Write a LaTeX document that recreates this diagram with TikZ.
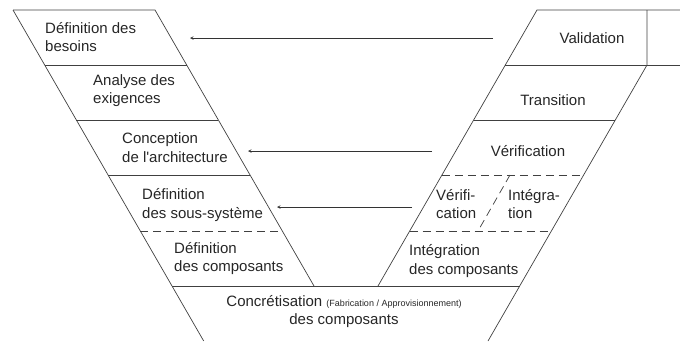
\documentclass[tikz,border=0pt]{standalone}
\usepackage{fontspec}
\setmainfont{Liberation Sans}[Ligatures=TeXOff]
\usetikzlibrary{arrows}
\tikzset{
    band/.style={draw=black!75,line width=0.7pt},
    split/.style={draw=black!75,line width=0.7pt,dash pattern=on 8pt off 5pt},
    phase/.style={inner sep=0pt,align=left,anchor=west,text=black!85,font=\fontsize{15}{18.5}\selectfont},
    phasec/.style={phase,align=center,anchor=center},
    back/.style={->,line width=0.6pt,>=stealth,draw=black!80}
}

\begin{document}
\begin{tikzpicture}[x=1pt,y=-1pt]

                \useasboundingbox (0,0) rectangle (680,341);

                % left branch
                \draw[band] (13,10) -- (155,10) -- (314,286);
                \draw[band] (13,10) -- (203.7,341);
                \draw[band] (44.7,65) -- (186.7,65);
                \draw[band] (76.4,120) -- (218.4,120);
                \draw[band] (108.1,175) -- (250.1,175);
                \draw[split] (140.3,231) -- (282.3,231);
                \draw[band] (172,286) -- (519.7,286);

                % right branch
                \draw[band] (378,286) -- (537,10) -- (680,10);
                \draw[band] (647,10) -- (647,65) -- (488,341);
                \draw[band] (505.3,65) -- (680,65);
                \draw[band] (473.6,120) -- (615.3,120);
                \draw[split] (441.9,175) -- (583.6,175);
                \draw[split] (409.7,231) -- (551.4,231);
                \draw[split] (510,175) -- (478,231);

                \node[phase]  (besoins)      at (45,37)    {Définition des\\besoins};
                \node[phase]  (exigences)    at (93,90.5)  {Analyse des\\exigences};
                \node[phase]  (architecture) at (122,147.5) {Conception\\de l'architecture};
                \node[phase]  (sous-systeme) at (142,205)  {Définition\\des sous-système};
                \node[phase]  (composants)   at (174,258.5) {Définition\\des composants};

                \node[phasec] (validation)   at (592,38)   {Validation};
                \node[phasec] (transition)   at (553,100)  {Transition};
                \node[phasec] (verification) at (528,151)  {Vérification};
                \node[phase]  (verif)        at (436,204)  {Vérifi-\\cation};
                \node[phase]  (integ)        at (508,204)  {Intégra-\\tion};
                \node[phase]  (integration)  at (409,261)  {Intégration\\des composants};

                \node[phasec] (concretisation) at (344,311.5)
                    {Concrétisation {\fontsize{9}{9}\selectfont(Fabrication / Approvisionnement)}\\des composants};

                \coordinate (validation out)   at (493,38);
                \coordinate (besoins in)       at (190,38);
                \coordinate (verification out) at (432,151);
                \coordinate (architecture in)  at (248,151);
                \coordinate (verif out)        at (412,207);
                \coordinate (sous-systeme in)  at (277,207);

                \draw[back] (validation out)   -- (besoins in);
                \draw[back] (verification out) -- (architecture in);
                \draw[back] (verif out)        -- (sous-systeme in);

            \end{tikzpicture}
\end{document}
